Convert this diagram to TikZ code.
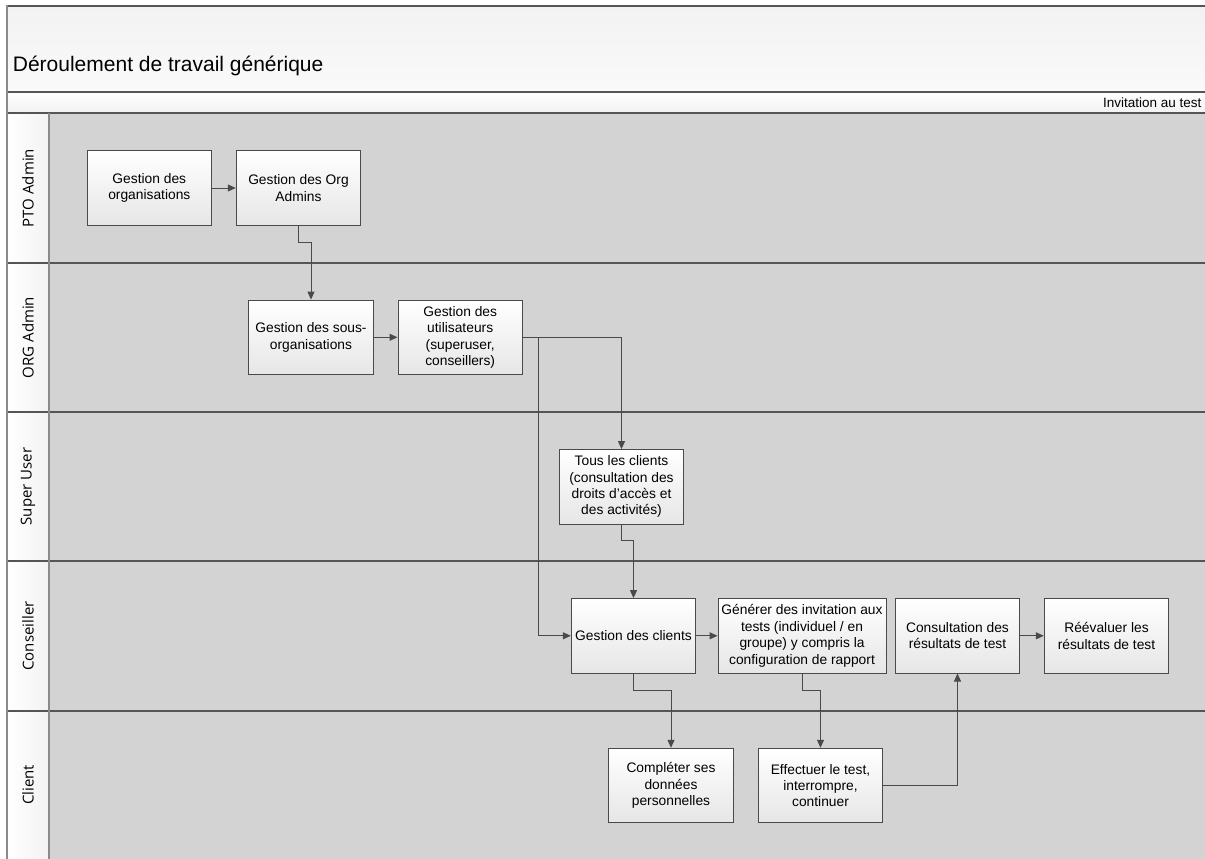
\documentclass[tikz,border=0pt]{standalone}
\usepackage{fontspec}
\setmainfont{Liberation Sans}
\newfontfamily\lanefont{Open Sans}
\usetikzlibrary{arrows.meta}
\definecolor{lanebody}{HTML}{D3D3D3}
\definecolor{lineclr}{HTML}{4A4A4A}
\definecolor{sepclr}{HTML}{555555}
\definecolor{frameclr}{HTML}{8A8A8A}
\definecolor{boxbot}{HTML}{E6E6E6}
\definecolor{bandclr}{HTML}{F2F2F2}
\tikzset{
  procbox/.style={draw=lineclr, line width=0.9pt, top color=white, bottom color=boxbot,
    minimum width=124.5pt, minimum height=74.5pt, inner sep=0pt, align=center,
    font=\fontsize{13.8}{16.4}\selectfont},
  flow/.style={draw=lineclr, line width=1pt, -{Triangle[length=8pt,width=7pt]}},
  lanelabel/.style={rotate=90, font=\lanefont\fontsize{15}{17}\selectfont, inner sep=0pt},
  lanehead/.style={left color=white, right color=bandclr, draw=none},
  sepline/.style={draw=sepclr, line width=1.4pt},
}
\begin{document}
\begin{tikzpicture}[x=1pt, y=-1pt]
\useasboundingbox (0,0) rectangle (1205,859);
\fill[white] (0,0) rectangle (1205,859);
% title band
\shade[top color=bandclr, bottom color=white!60!bandclr] (7,6) rectangle (1205,92);
\shade[top color=white, bottom color=bandclr] (7,92) rectangle (1205,113);
\node[anchor=base west, inner sep=0pt, font=\fontsize{21}{25}\selectfont] (title) at (12.7,71.7) {Déroulement de travail générique};
\node[anchor=base east, inner sep=0pt, font=\fontsize{13.5}{16}\selectfont] (phase) at (1201.7,107.3) {Invitation au test};
% lanes
\foreach \t/\b in {113/263, 263/412, 412/561, 561/711, 711/859}{
  \fill[lanebody] (49,\t) rectangle (1205,\b);
  \shade[lanehead] (7,\t) rectangle (49,\b);
}
\node[lanelabel] (l1) at (28,188) {PTO Admin};
\node[lanelabel] (l2) at (28,337.5) {ORG Admin};
\node[lanelabel] (l3) at (28,486.5) {Super User};
\node[lanelabel] (l4) at (28,636) {Conseiller};
\node[lanelabel] (l5) at (28,785) {Client};
% lines
\draw[sepline] (7,6) -- (1205,6);
\draw[sepline] (7,92) -- (1205,92);
\draw[sepline] (7,113) -- (1205,113);
\foreach \y in {263,412,561,711}{\draw[sepline] (7,\y) -- (1205,\y);}
\draw[draw=frameclr, line width=2pt] (49,113) -- (49,859);
\draw[draw=frameclr, line width=2pt] (7,5) -- (7,859);
% boxes
\node[procbox] (b1) at (149.3,188) {Gestion des\\organisations};
\node[procbox] (b2) at (298.5,188) {Gestion des Org\\Admins};
\node[procbox] (b3) at (311,337.3) {Gestion des sous-\\organisations};
\node[procbox] (b4) at (460.2,337.3) {Gestion des\\utilisateurs\\(superuser,\\conseillers)};
\node[procbox] (b5) at (621.5,486.8) {Tous les clients\\(consultation des\\droits d’accès et\\des activités)};
\node[procbox] (b6) at (633.5,635.8) {Gestion des clients};
\node[procbox, minimum width=168pt] (b7) at (802,635.8) {Générer des invitation aux\\tests (individuel / en\\groupe) y compris la\\configuration de rapport};
\node[procbox] (b8) at (957.5,635.8) {Consultation des\\résultats de test};
\node[procbox] (b9) at (1106.5,635.8) {Réévaluer les\\résultats de test};
\node[procbox] (b10) at (671,785.5) {Compléter ses\\données\\personnelles};
\node[procbox] (b11) at (820.5,785.5) {Effectuer le test,\\interrompre,\\continuer};
% connectors
\draw[flow] (b1.east) -- (b2.west);
\draw[flow] (b2.south) -- ++(0,16.3) -| (b3.north);
\draw[flow] (b3.east) -- (b4.west);
\draw[flow] (b4.east) -| (b5.north);
\draw[flow] (b4.east) -- ++(16,0) |- (b6.west);
\draw[flow] (b5.south) -- ++(0,16) -| (b6.north);
\draw[flow] (b6.east) -- (b7.west);
\draw[flow] (b8.east) -- (b9.west);
\draw[flow] (b6.south) -- ++(0,16.7) -| (b10.north);
\draw[flow] (b7.south) -- ++(0,16.7) -| (b11.north);
\draw[flow] (b11.east) -| (b8.south);
\end{tikzpicture}
\end{document}
